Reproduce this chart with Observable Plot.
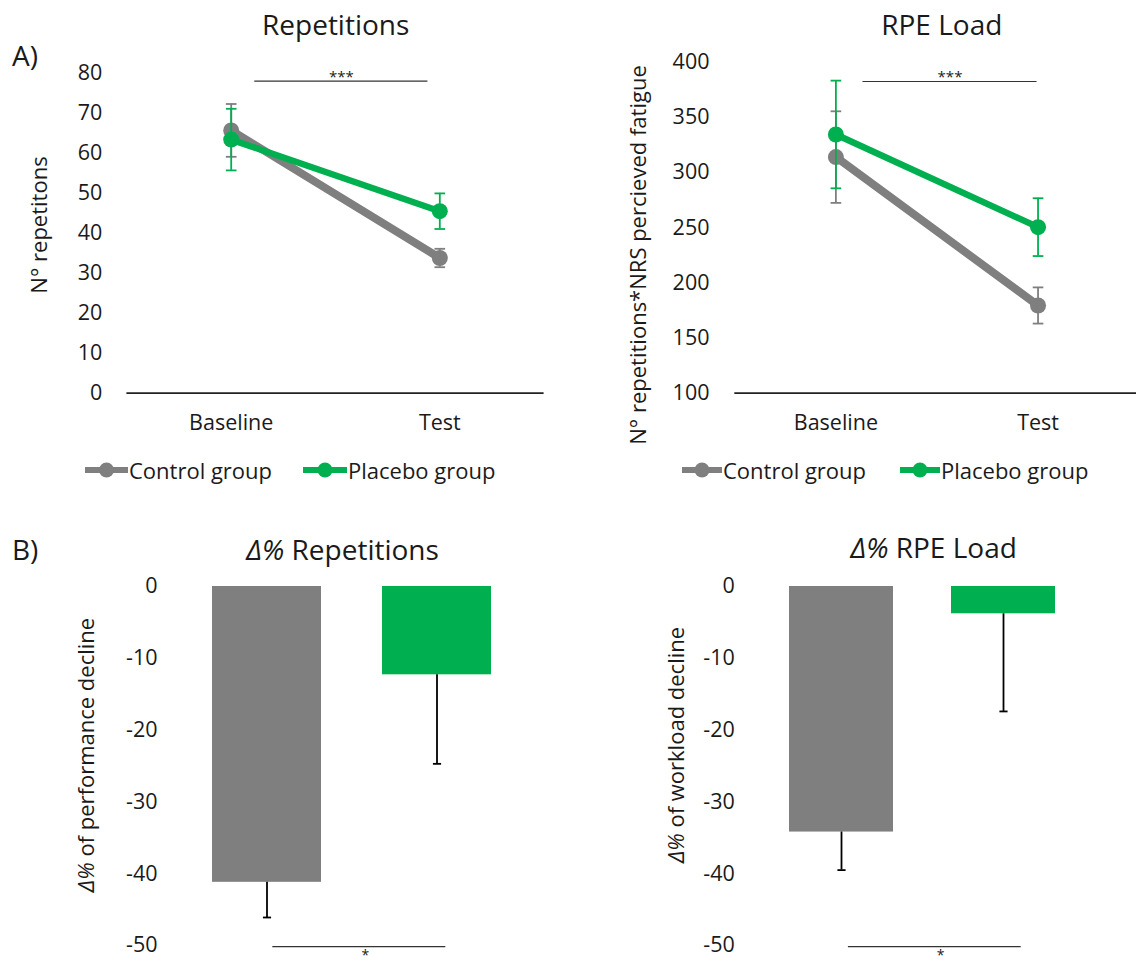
<!DOCTYPE html>
<html>
<head>
<meta charset="utf-8">
<script src="https://cdn.jsdelivr.net/npm/d3@7"></script>
<script src="https://cdn.jsdelivr.net/npm/@observablehq/plot@0.6"></script>
<style>
  body { margin: 0; background: #fff; font-family: "Open Sans", sans-serif; color: #1a1a1a; }
  #fig { position: relative; width: 1136px; height: 964px; overflow: hidden; background: #fff; }
  .abs { position: absolute; line-height: 1; white-space: nowrap; color: #1a1a1a; }
</style>
</head>
<body>
<div id="fig"></div>
<script>
// ---------------- data ----------------
const timepoints = ["Baseline", "Test"];
const groups = ["Control group", "Placebo group"];

// Repetitions: mean and error (Baseline, Test)
const repsControl = [65.7, 33.8];
const repsControlErr = [6.6, 2.3];
const repsPlacebo = [63.4, 45.5];
const repsPlaceboErr = [7.7, 4.45];

// RPE load: mean and error (Baseline, Test)
const rpeControl = [314, 179.5];
const rpeControlErr = [41.5, 16.4];
const rpePlacebo = [334.5, 250.5];
const rpePlaceboErr = [48.8, 26.2];

// Δ% change
const barGroups = ["Control group", "Placebo group"];
const deltaReps = [-41.2, -12.3];
const deltaRepsErr = [4.9, 12.4];
const deltaRpe = [-34.2, -3.8];
const deltaRpeErr = [5.3, 13.6];

// tick values
const repsTicks = [0, 10, 20, 30, 40, 50, 60, 70, 80];
const rpeTicks = [100, 150, 200, 250, 300, 350, 400];
const deltaTicks = [0, -10, -20, -30, -40, -50];

// significance annotations (data units)
const sigReps = [{x1: 0.113, x2: 0.943, y: 78, label: "***"}];
const sigRpe = [{x1: 0.134, x2: 0.995, y: 382.5, label: "***"}];
const sigDeltaReps = [{from: "Control group", to: "Placebo group", y: -50.15, label: "*"}];
const sigDeltaRpe = [{from: "Control group", to: "Placebo group", y: -50.15, label: "*"}];

// ---------------- styling ----------------
const GRAY = "#7f7f7f";
const GREEN = "#00b050";
const groupColors = [GRAY, GREEN];

const fig = document.getElementById("fig");

function addSvg(svg, left, top, w) {
  const d = document.createElement("div");
  d.style.cssText = `position:absolute;left:${left}px;top:${top}px;width:${w}px;`;
  d.appendChild(svg);
  fig.appendChild(d);
}
function addText(html, x, baseline, size, anchor = "start") {
  const d = document.createElement("div");
  d.className = "abs";
  d.innerHTML = html;
  d.style.fontSize = size + "px";
  d.style.left = x + "px";
  d.style.top = (baseline - 0.888 * size) + "px";
  if (anchor === "middle") d.style.transform = "translateX(-50%)";
  fig.appendChild(d);
}
function addVLabel(html, cx, cy, size) {
  const d = document.createElement("div");
  d.className = "abs";
  d.innerHTML = html;
  d.style.fontSize = size + "px";
  d.style.left = (cx - 3) + "px";
  d.style.top = cy + "px";
  d.style.transform = "translate(-50%,-50%) rotate(-90deg)";
  fig.appendChild(d);
}
function addLegendItem(label, color, left, cy, swW) {
  const d = document.createElement("div");
  d.className = "abs";
  d.style.cssText += `left:${left}px;top:${cy - 12}px;height:24px;display:flex;align-items:center;font-size:22px;`;
  const ns = "http://www.w3.org/2000/svg";
  const s = document.createElementNS(ns, "svg");
  s.setAttribute("width", swW); s.setAttribute("height", 20);
  const ln = document.createElementNS(ns, "line");
  ln.setAttribute("x1", 0); ln.setAttribute("x2", swW); ln.setAttribute("y1", 10); ln.setAttribute("y2", 10);
  ln.setAttribute("stroke", color); ln.setAttribute("stroke-width", 6);
  const c = document.createElementNS(ns, "circle");
  c.setAttribute("cx", swW / 2); c.setAttribute("cy", 10); c.setAttribute("r", 7.5); c.setAttribute("fill", color);
  s.appendChild(ln); s.appendChild(c);
  const t = document.createElement("span");
  t.textContent = label;
  t.style.marginLeft = "1px";
  d.appendChild(s); d.appendChild(t);
  fig.appendChild(d);
}

// horizontal cap symbol for error bars
const capSym = {draw(ctx, size) { const w = Math.sqrt(size) / 2; ctx.moveTo(-w, 0); ctx.lineTo(w, 0); }};

function rowsOf(vals, errs, group) {
  return vals.map((v, i) => ({t: i, time: timepoints[i], v, e: errs[i], group}));
}
function seriesMarks(rows, color, lw) {
  return [
    Plot.line(rows, {x: "t", y: "v", stroke: color, strokeWidth: lw, strokeLinecap: "round"}),
    Plot.dot(rows, {x: "t", y: "v", r: 8, fill: color}),
    Plot.ruleX(rows, {x: "t", y1: d => d.v - d.e, y2: d => d.v + d.e, stroke: color, strokeWidth: 1.8}),
    Plot.dot(rows, {x: "t", y: d => d.v + d.e, symbol: capSym, r: 6, fill: "none", stroke: color, strokeWidth: 1.8}),
    Plot.dot(rows, {x: "t", y: d => d.v - d.e, symbol: capSym, r: 6, fill: "none", stroke: color, strokeWidth: 1.8})
  ];
}
function sigMarks(sig) {
  return [
    Plot.ruleY(sig, {x1: "x1", x2: "x2", y: "y", stroke: "#333", strokeWidth: 1.2}),
    Plot.text(sig, {x: d => (d.x1 + d.x2) / 2, y: "y", text: "label", dy: -4.5, fontSize: 15, fill: "#222"})
  ];
}
const baseStyle = {fontFamily: "Open Sans", fontSize: "21.5px", color: "#1a1a1a", background: "transparent", overflow: "visible"};

// ---------------- Panel A: Repetitions ----------------
const pRep = Plot.plot({
  width: 560, height: 445,
  marginLeft: 126.4, marginRight: 16.4, marginTop: 72.7, marginBottom: 52.3,
  style: baseStyle,
  x: {domain: [-0.5, 1.5], ticks: [0, 1], tickFormat: i => timepoints[i], tickSize: 0, tickPadding: 22, label: null},
  y: {domain: [0, 80], ticks: repsTicks, tickSize: 0, tickPadding: 24.6, label: null},
  marks: [
    Plot.ruleY([0], {stroke: "#222", strokeWidth: 1.8}),
    ...seriesMarks(rowsOf(repsControl, repsControlErr, groups[0]), GRAY, 8),
    ...seriesMarks(rowsOf(repsPlacebo, repsPlaceboErr, groups[1]), GREEN, 6.5),
    ...sigMarks(sigReps)
  ]
});
addSvg(pRep, 0, 0, 560);

// ---------------- Panel A: RPE Load ----------------
const pRpe = Plot.plot({
  width: 566, height: 445,
  marginLeft: 164.3, marginRight: 0, marginTop: 61.7, marginBottom: 52.3,
  style: baseStyle,
  x: {domain: [-0.5, 1.487], ticks: [0, 1], tickFormat: i => timepoints[i], tickSize: 0, tickPadding: 22, label: null},
  y: {domain: [100, 400], ticks: rpeTicks, tickSize: 0, tickPadding: 25.3, label: null},
  marks: [
    Plot.ruleY([100], {stroke: "#222", strokeWidth: 1.8}),
    ...seriesMarks(rowsOf(rpeControl, rpeControlErr, groups[0]), GRAY, 8),
    ...seriesMarks(rowsOf(rpePlacebo, rpePlaceboErr, groups[1]), GREEN, 6.5),
    ...sigMarks(sigRpe)
  ]
});
addSvg(pRpe, 570, 0, 566);

// ---------------- Panel B: bars ----------------
function deltaPlot(vals, errs, sig, opts) {
  const rows = vals.map((v, i) => ({g: barGroups[i], v, e: errs[i]}));
  return Plot.plot({
    width: opts.width, height: 464,
    marginLeft: opts.marginLeft, marginRight: opts.marginRight, marginTop: 86, marginBottom: 19,
    style: baseStyle,
    color: {domain: barGroups, range: groupColors},
    x: {type: "band", domain: barGroups, paddingInner: 0.359, paddingOuter: opts.outer, axis: null},
    y: {domain: [-50, 0], ticks: deltaTicks, tickFormat: d => String(d), tickSize: 0, tickPadding: 23, label: null},
    marks: [
      Plot.barY(rows, {x: "g", y: "v", fill: "g"}),
      Plot.ruleX(rows, {x: "g", y1: "v", y2: d => d.v - d.e, stroke: "#000", strokeWidth: 1.8}),
      Plot.dot(rows, {x: "g", y: d => d.v - d.e, symbol: capSym, r: 4.6, fill: "none", stroke: "#000", strokeWidth: 1.8}),
      Plot.ruleY(sig, {x1: "from", x2: "to", y: "y", stroke: "#333", strokeWidth: 1.2, insetLeft: opts.insetL, insetRight: opts.insetR}),
      Plot.text(sig, {y: "y", text: "label", frameAnchor: "middle", dx: opts.starDx, dy: 8.5, fontSize: 14, fill: "#222"})
    ]
  });
}
const pDRep = deltaPlot(deltaReps, deltaRepsErr, sigDeltaReps,
  {width: 560, marginLeft: 180, marginRight: 36.1, outer: 0.186, insetL: 60.3, insetR: 45.7, starDx: 13});
addSvg(pDRep, 0, 500, 560);
const pDRpe = deltaPlot(deltaRpe, deltaRpeErr, sigDeltaRpe,
  {width: 566, marginLeft: 187.3, marginRight: 49.3, outer: 0.191, insetL: 58.9, insetR: 34.3, starDx: 18});
addSvg(pDRpe, 570, 500, 566);

// ---------------- text: titles, labels, legends ----------------
addText("A)", 12, 66, 28);
addText("B)", 12, 560, 28);
addText("Repetitions", 335.7, 35, 28, "middle");
addText("RPE Load", 941.8, 35, 28, "middle");
addText("<i>Δ%</i> Repetitions", 342.6, 560, 28, "middle");
addText("<i>Δ%</i> RPE Load", 933.7, 558, 28, "middle");

addVLabel("N° repetitons", 41, 225, 22);
addVLabel("N° repetitions*NRS percieved fatigue", 640.4, 254.5, 22);
addVLabel("<i>Δ%</i> of performance decline", 87.5, 755, 22);
addVLabel("<i>Δ%</i> of workload decline", 677.6, 744.5, 22);

addLegendItem(groups[0], GRAY, 85, 470, 43);
addLegendItem(groups[1], GREEN, 303, 470, 44);
addLegendItem(groups[0], GRAY, 682, 470, 40);
addLegendItem(groups[1], GREEN, 900, 470, 40);
</script>
</body>
</html>
